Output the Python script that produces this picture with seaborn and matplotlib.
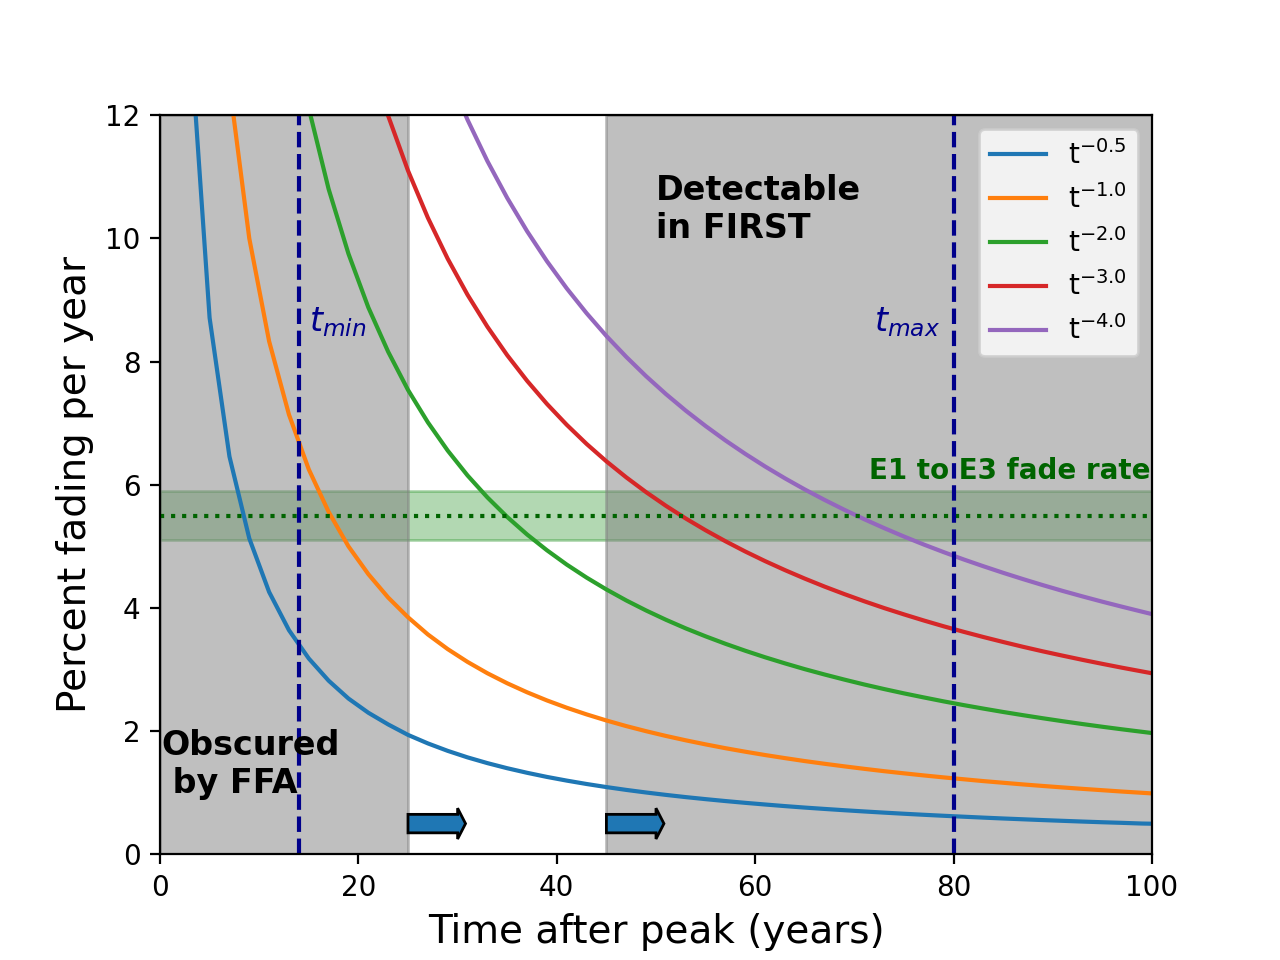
import matplotlib
matplotlib.use("Agg")
import matplotlib.pyplot as plt
import seaborn as sns
import pandas as pd

years = [1, 3, 5, 7, 9, 11, 13, 15, 17, 19, 21, 23, 25, 27, 29, 31, 33, 35,
         37, 39, 41, 43, 45, 47, 49, 51, 53, 55, 57, 59, 61, 63, 65, 67, 69,
         71, 73, 75, 77, 79, 81, 83, 85, 87, 89, 91, 93, 95, 97, 99, 100]

fade_05 = [29.29, 13.40, 8.71, 6.46, 5.13, 4.26, 3.64, 3.18, 2.82, 2.53, 2.30,
           2.11, 1.94, 1.802, 1.681, 1.575, 1.482, 1.399, 1.325, 1.258, 1.198,
           1.143, 1.093, 1.047, 1.005, 0.966, 0.930, 0.897, 0.866, 0.837,
           0.810, 0.784, 0.760, 0.738, 0.717, 0.697, 0.678, 0.660, 0.643,
           0.627, 0.612, 0.597, 0.583, 0.570, 0.557, 0.545, 0.533, 0.522,
           0.512, 0.501, 0.498]
fade_10 = [50.0, 25.0, 16.67, 12.5, 10.0, 8.33, 7.14, 6.25, 5.56, 5.0, 4.55,
           4.17, 3.85, 3.571, 3.333, 3.125, 2.941, 2.778, 2.632, 2.500, 2.381,
           2.273, 2.174, 2.083, 2.000, 1.923, 1.852, 1.786, 1.724, 1.667,
           1.613, 1.563, 1.515, 1.471, 1.429, 1.389, 1.351, 1.316, 1.282,
           1.250, 1.220, 1.190, 1.163, 1.136, 1.111, 1.087, 1.064, 1.042,
           1.020, 1.000, 0.990]
fade_20 = [75.0, 43.75, 30.56, 23.44, 19.0, 15.97, 13.78, 12.11, 10.80, 9.75,
           8.88, 8.16, 7.54, 7.015, 6.556, 6.152, 5.796, 5.478, 5.194, 4.938,
           4.705, 4.494, 4.301, 4.123, 3.960, 3.809, 3.669, 3.540, 3.419,
           3.306, 3.200, 3.101, 3.007, 2.920, 2.837, 2.758, 2.684, 2.614,
           2.548, 2.484, 2.424, 2.367, 2.312, 2.260, 2.210, 2.162, 2.116,
           2.072, 2.030, 1.990, 1.970]
fade_30 = [87.5, 57.81, 42.13, 33.01, 27.1, 22.97, 19.93, 17.60, 15.76, 14.26,
           13.02, 11.99, 11.10, 10.336, 9.670, 9.085, 8.567, 8.104, 7.689,
           7.314, 6.974, 6.664, 6.381, 6.121, 5.881, 5.659, 5.453, 5.262,
           5.084, 4.917, 4.761, 4.615, 4.477, 4.347, 4.225, 4.109, 3.999,
           3.896, 3.797, 3.703, 3.614, 3.529, 3.448, 3.370, 3.296, 3.226,
           3.158, 3.093, 3.030, 2.970, 2.940]
fade_40 = [93.75, 68.36, 51.77, 41.38, 34.39, 29.39, 25.65, 22.75, 20.44,
           18.55, 16.98, 15.65, 14.52, 13.539, 12.681, 11.926, 11.256, 10.657,
           10.118, 9.631, 9.189, 8.786, 8.416, 8.077, 7.763, 7.473, 7.204,
           6.954, 6.720, 6.502, 6.297, 6.105, 5.924, 5.754, 5.593, 5.441,
           5.297, 5.160, 5.030, 4.907, 4.789, 4.678, 4.571, 4.469, 4.371,
           4.277, 4.188, 4.102, 4.020, 3.940, 3.901]

series_labels = ['t$^{-0.5}$', 't$^{-1.0}$', 't$^{-2.0}$', 't$^{-3.0}$', 't$^{-4.0}$']

t_min = 14
t_max = 80
e1e3_rate = 5.5
e1e3_lo = 5.1
e1e3_hi = 5.9

df = pd.DataFrame({'years': years})
for lab, vals in zip(series_labels, [fade_05, fade_10, fade_20, fade_30, fade_40]):
    df[lab] = vals
df_long = df.melt(id_vars='years', var_name='model', value_name='fade')

fig, ax = plt.subplots(figsize=(6.4, 4.8), dpi=200)

# E1-E3 band first, then the grey windows on top of it
ax.axhspan(e1e3_lo, e1e3_hi, color='green', alpha=0.3)
ax.axvspan(0, 25, color='gray', alpha=0.5)
ax.axvspan(45, 100, color='gray', alpha=0.5)

sns.lineplot(data=df_long, x='years', y='fade', hue='model',
             hue_order=series_labels, palette='tab10', ax=ax)

ax.axhline(e1e3_rate, color='darkgreen', linestyle=':')
ax.axvline(t_min, color='darkblue', linestyle='--')
ax.axvline(t_max, color='darkblue', linestyle='--')

ax.text(15, 8.5, '$t_{min}$', color='darkblue', fontsize=12)
ax.text(72, 8.5, '$t_{max}$', color='darkblue', fontsize=12)
ax.text(99.8, 6.1, 'E1 to E3 fade rate', color='darkgreen', fontweight='bold',
        fontsize=10, ha='right')
ax.text(50, 10, 'Detectable\nin FIRST', fontweight='bold', fontsize=12)
ax.text(0.1, 1.0, 'Obscured\n by FFA', fontweight='bold', fontsize=12)

ax.arrow(25, 0.5, 5, 0, width=0.3, head_width=0.5, head_length=0.8,
         facecolor='C0', edgecolor='black')
ax.arrow(45, 0.5, 5, 0, width=0.3, head_width=0.5, head_length=0.8,
         facecolor='C0', edgecolor='black')

ax.set_xlim(0, 100)
ax.set_ylim(0, 12)
ax.set_xlabel('Time after peak (years)', fontsize=14)
ax.set_ylabel('Percent fading per year', fontsize=14)
ax.legend(loc='upper right')

fig.savefig('out.png', dpi=200)
